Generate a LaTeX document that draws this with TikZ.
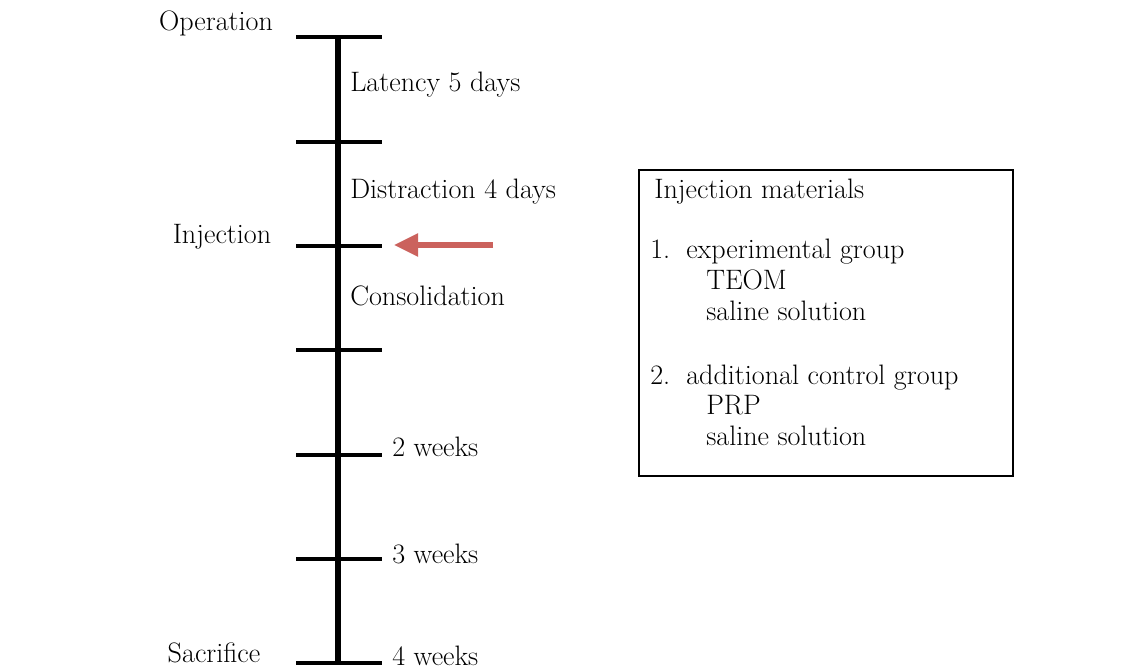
\documentclass[tikz,border=0pt]{standalone}
\usepackage{xcolor}
\usepackage{tikz}
\usetikzlibrary{arrows.meta,positioning}
\definecolor{softred}{HTML}{CB625D}

\begin{document}
\begin{tikzpicture}[x=0.025cm, y=-0.025cm,
  txt/.style={inner sep=0pt, font=\fontsize{20}{24}\selectfont},
  leftlabel/.style={txt, anchor=base},
  rightlabel/.style={txt, anchor=base west},
  axis/.style={line width=3.6pt},
  tick/.style={line width=2.9pt},
  matbox/.style={draw, line width=1.5pt, minimum width=9.35cm, minimum height=7.65cm, inner sep=0pt},
  arr/.style={-{Triangle[length=0.6cm, width=0.55cm]}, line width=3.6pt, softred}
]
  \useasboundingbox (0,0) rectangle (1147,669);

  % time line
  \coordinate (top)    at (338,36);
  \coordinate (bottom) at (338,665);
  \draw[axis] (top) -- (bottom);
  \foreach \y in {37,142,246,350,455,559,663}
    \draw[tick] (296,\y) -- (382,\y);

  % labels left of the line
  \node[leftlabel] (operation) at (216,31)  {Operation};
  \node[leftlabel] (injection) at (222,244) {Injection};
  \node[leftlabel] (sacrifice) at (214,662) {Sacrifice};

  % labels right of the line
  \node[rightlabel] (latency)  at (350,92)  {Latency 5 days};
  \node[rightlabel] (distract) at (350,199) {Distraction 4 days};
  \node[rightlabel] (consol)   at (350,306) {Consolidation};
  \node[rightlabel] (week2)    at (392,457) {2 weeks};
  \node[rightlabel] (week3)    at (392,564) {3 weeks};
  \node[rightlabel] (week4)    at (392,665) {4 weeks};

  % injection arrow
  \coordinate (arrowtail) at (493,245);
  \coordinate (arrowtip)  at (394,245);
  \draw[arr] (arrowtail) -- (arrowtip);

  % materials box
  \node[matbox] (materials) at (826,323) {};
  \node[rightlabel] (mattitle) at (654,199) {Injection materials};
  \node[rightlabel] (num1)     at (650,259) {1.};
  \node[rightlabel] (group1)   at (686,259) {experimental group};
  \node[rightlabel] (teom)     at (706,290) {TEOM};
  \node[rightlabel] (saline1)  at (706,321) {saline solution};
  \node[rightlabel] (num2)     at (650,385) {2.};
  \node[rightlabel] (group2)   at (686,385) {additional control group};
  \node[rightlabel] (prp)      at (706,415) {PRP};
  \node[rightlabel] (saline2)  at (706,446) {saline solution};
\end{tikzpicture}
\end{document}
